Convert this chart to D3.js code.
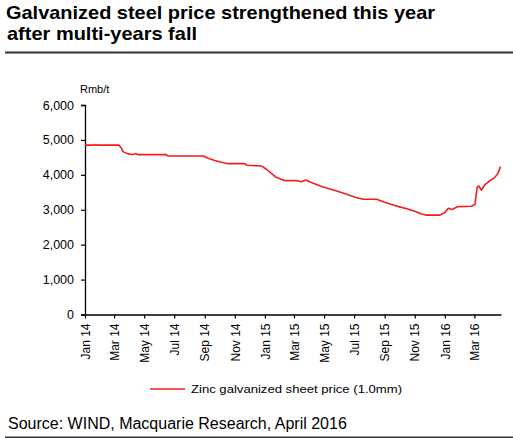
<!DOCTYPE html>
<html>
<head>
<meta charset="utf-8">
<script src="https://cdn.jsdelivr.net/npm/d3@7"></script>
<style>
  html, body { margin: 0; padding: 0; background: #fff; }
  text { font-family: "Liberation Sans", Arial, sans-serif; fill: #000; }
</style>
</head>
<body>
<svg id="chart" width="513" height="438"></svg>
<script>
// ---- data ----
const titleLines = ["Galvanized steel price strengthened this year", "after multi-years fall"];
const unitLabel = "Rmb/t";
const seriesName = "Zinc galvanized sheet price (1.0mm)";
const sourceText = "Source: WIND, Macquarie Research, April 2016";

const dates = [
  "2014-01-01","2014-01-20","2014-01-23","2014-01-26","2014-03-11","2014-03-16","2014-03-19","2014-03-29",
  "2014-04-08","2014-04-14","2014-04-18","2014-06-15","2014-06-18","2014-08-29","2014-09-08","2014-09-21",
  "2014-10-05","2014-10-18","2014-11-21","2014-11-25","2014-12-25","2015-01-04","2015-01-14","2015-01-24",
  "2015-02-03","2015-02-10","2015-03-06","2015-03-16","2015-03-25","2015-04-09","2015-04-26","2015-05-13",
  "2015-05-30","2015-06-16","2015-07-03","2015-07-19","2015-08-16","2015-08-29","2015-09-12","2015-09-29",
  "2015-10-16","2015-11-01","2015-11-15","2015-11-25","2015-12-22","2016-01-01","2016-01-08","2016-01-15",
  "2016-01-28","2016-02-24","2016-03-02","2016-03-07","2016-03-10","2016-03-15","2016-03-22","2016-04-01",
  "2016-04-11","2016-04-18","2016-04-23"
];
const prices = [
  4850,4850,4870,4850,4850,4760,4665,4600,
  4580,4610,4580,4580,4540,4540,4475,4410,
  4360,4320,4320,4275,4255,4160,4045,3930,
  3875,3835,3835,3800,3850,3760,3665,3595,
  3520,3445,3360,3300,3300,3230,3165,3090,
  3030,2955,2880,2845,2845,2920,3040,3010,
  3090,3100,3150,3660,3680,3560,3710,3825,
  3920,4045,4235
];
const yTicks = [0, 1000, 2000, 3000, 4000, 5000, 6000];
const xTickDates = ["2014-01-01","2014-03-01","2014-05-01","2014-07-01","2014-09-01","2014-11-01",
  "2015-01-01","2015-03-01","2015-05-01","2015-07-01","2015-09-01","2015-11-01","2016-01-01","2016-03-01"];
const xDomain = ["2014-01-01", "2016-04-24"];

// ---- drawing ----
const parse = d3.utcParse("%Y-%m-%d");
const fmtX = d3.utcFormat("%b %y");
const svg = d3.select("#chart");

const x = d3.scaleUtc().domain(xDomain.map(parse)).range([85, 501]);
const y = d3.scaleLinear().domain([0, 6000]).range([314.5, 105]);

// title
const titleLens = [429, 190];
svg.selectAll("text.title").data(titleLines).enter().append("text")
  .attr("class", "title")
  .attr("x", (d, i) => i === 0 ? 6 : 7)
  .attr("y", (d, i) => 19 + i * 21)
  .attr("textLength", (d, i) => titleLens[i])
  .attr("lengthAdjust", "spacingAndGlyphs")
  .style("font-size", "18.5px").style("font-weight", "bold")
  .text(d => d);

svg.append("line").attr("x1", 5).attr("x2", 513).attr("y1", 52.5).attr("y2", 52.5)
  .attr("stroke", "#333").attr("stroke-width", 1.8);

// unit
svg.append("text").attr("x", 80).attr("y", 93).style("font-size", "11px").text(unitLabel);

// y axis
const yAxis = svg.append("g").attr("transform", "translate(85,0)")
  .call(d3.axisLeft(y).tickValues(yTicks).tickSize(4).tickPadding(7).tickFormat(d3.format(",")));
yAxis.select(".domain").attr("stroke", "#000").attr("stroke-width", 1.3);
yAxis.selectAll(".tick line").attr("stroke", "#000").attr("stroke-width", 1.2);
yAxis.selectAll(".tick text").style("font-size", "12.5px").attr("font-family", null);

// x axis
const xAxis = svg.append("g").attr("transform", "translate(0,314.5)")
  .call(d3.axisBottom(x).tickValues(xTickDates.map(parse)).tickSize(4).tickSizeOuter(0).tickFormat(fmtX));
xAxis.select(".domain").attr("stroke", "#000").attr("stroke-width", 1.3);
xAxis.selectAll(".tick line").attr("stroke", "#000").attr("stroke-width", 1.2);
xAxis.selectAll(".tick text")
  .style("font-size", "12px").attr("font-family", null)
  .attr("transform", "rotate(-90)")
  .attr("x", -9).attr("y", 0).attr("dy", "0.35em")
  .style("text-anchor", "end");

// line
const data = dates.map((d, i) => ({ date: parse(d), value: prices[i] }));
svg.append("path").datum(data)
  .attr("fill", "none").attr("stroke", "#f41c1c").attr("stroke-width", 1.6)
  .attr("stroke-linejoin", "round")
  .attr("d", d3.line().x(d => x(d.date)).y(d => y(d.value)));

// legend
svg.append("line").attr("x1", 150).attr("x2", 185).attr("y1", 389).attr("y2", 389)
  .attr("stroke", "#f41c1c").attr("stroke-width", 1.6);
svg.append("text").attr("x", 191).attr("y", 393)
  .attr("textLength", 211).attr("lengthAdjust", "spacingAndGlyphs")
  .style("font-size", "11.5px").text(seriesName);

// source
svg.append("text").attr("x", 8).attr("y", 429).style("font-size", "16px").text(sourceText);
svg.append("line").attr("x1", 5).attr("x2", 513).attr("y1", 437.3).attr("y2", 437.3)
  .attr("stroke", "#333").attr("stroke-width", 1.4);
</script>
</body>
</html>
